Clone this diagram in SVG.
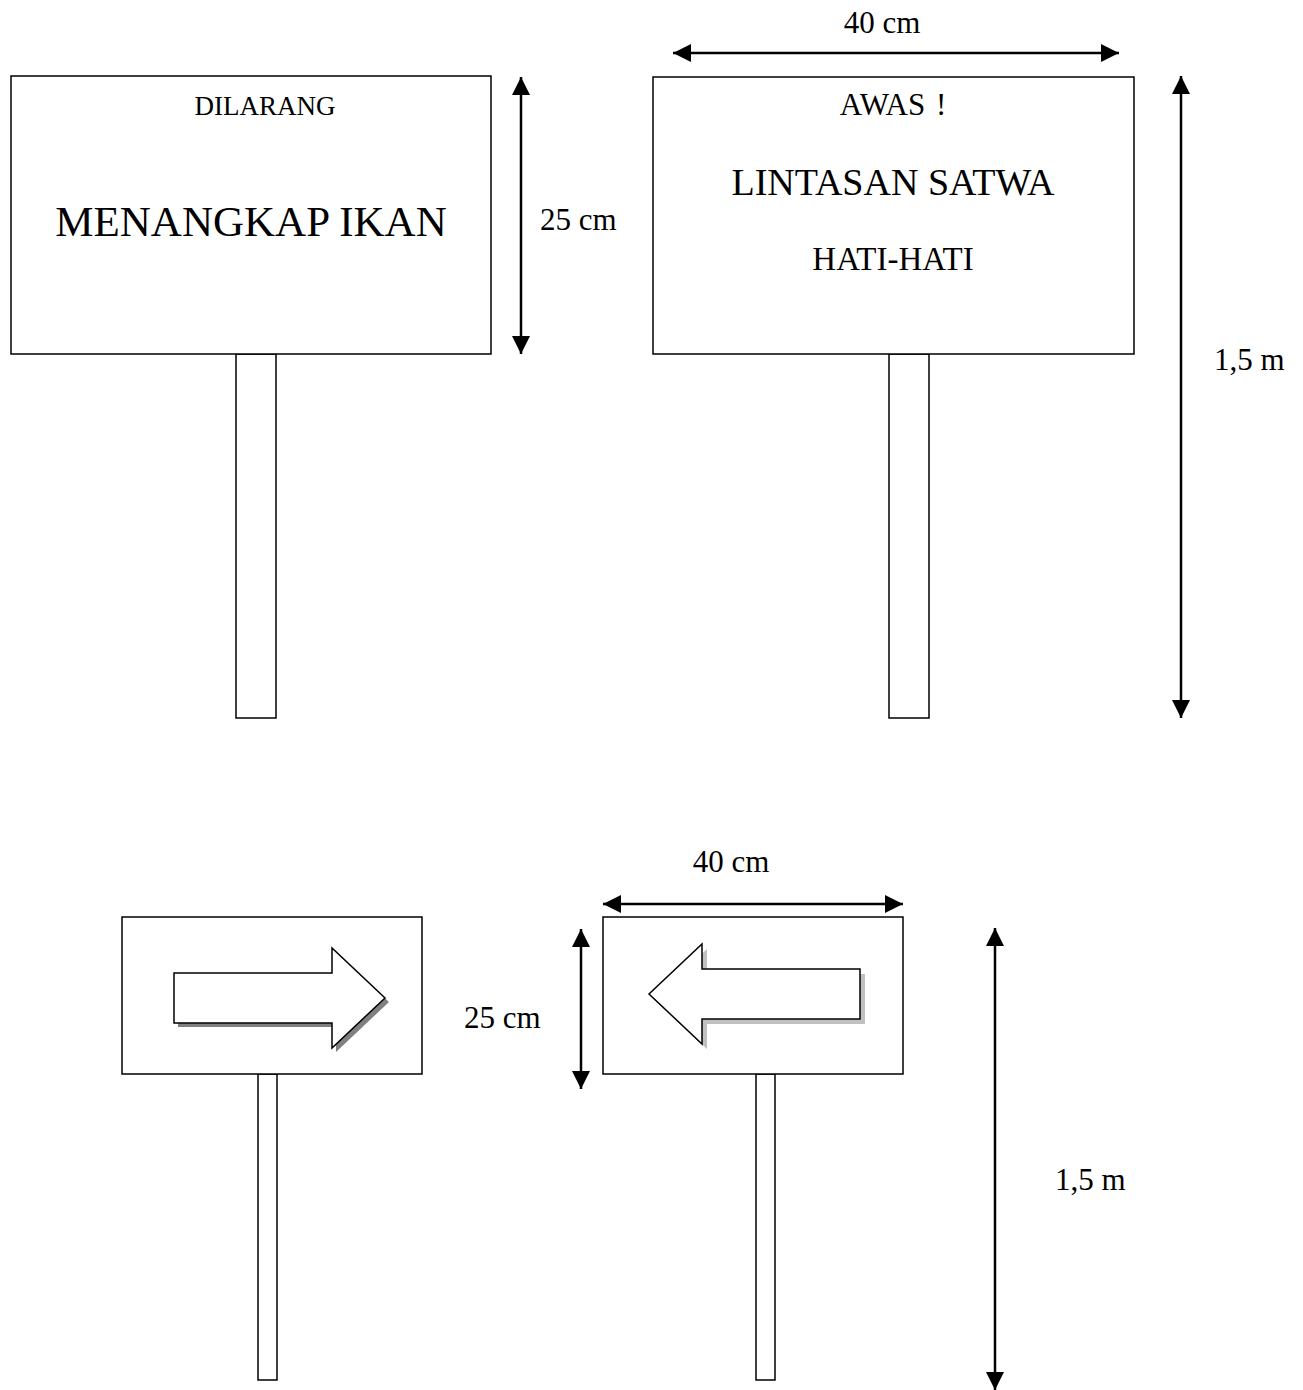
<svg xmlns="http://www.w3.org/2000/svg" width="1303" height="1390" viewBox="0 0 1303 1390">
<style>
.board{fill:#fff;stroke:#000;stroke-width:1.5}
.post{fill:#fff;stroke:#000;stroke-width:1.5}
.dim{stroke:#000;stroke-width:2.5;fill:none;marker-start:url(#ah);marker-end:url(#ah)}
text{font-family:"Liberation Serif","Times New Roman",serif;fill:#000}
.c{text-anchor:middle}
.lbl{font-size:31px}
.arr{fill:#fff;stroke:#000;stroke-width:1.5;stroke-linejoin:miter}
</style>
<defs>
<marker id="ah" markerUnits="userSpaceOnUse" markerWidth="18" markerHeight="18" viewBox="0 0 16 16" refX="16" refY="8" orient="auto-start-reverse">
<path d="M0,0 L16,8 L0,16 Z" fill="#000"/>
</marker>
</defs>
<rect width="1303" height="1390" fill="#fff"/>

<g id="sign-dilarang">
<rect class="post" x="236" y="354" width="40" height="364"/>
<rect class="board" x="11" y="76" width="480" height="278"/>
<text class="c" x="265" y="115" font-size="27">DILARANG</text>
<text class="c" x="251" y="236" font-size="43">MENANGKAP IKAN</text>
</g>

<g id="sign-awas">
<rect class="post" x="889" y="354" width="40" height="364"/>
<rect class="board" x="653" y="77" width="481" height="277"/>
<text class="c" x="893" y="115" font-size="31" word-spacing="3">AWAS !</text>
<text class="c" x="893" y="195" font-size="38">LINTASAN SATWA</text>
<text class="c" x="893" y="270" font-size="33">HATI-HATI</text>
</g>

<g id="sign-right">
<rect class="post" x="258" y="1074" width="19" height="306"/>
<rect class="board" x="122" y="917" width="300" height="157"/>
<path d="M174,973 H332 V948 L385,998 L332,1048 V1023 H174 Z" fill="#808080" transform="translate(4,4)"/>
<path class="arr" d="M174,973 H332 V948 L385,998 L332,1048 V1023 H174 Z"/>
</g>

<g id="sign-left">
<rect class="post" x="756" y="1074" width="19" height="306"/>
<rect class="board" x="603" y="917" width="300" height="157"/>
<path d="M860,969 H702 V944 L649,994 L702,1044 V1019 H860 Z" fill="#c0c0c0" transform="translate(5,5)"/>
<path class="arr" d="M860,969 H702 V944 L649,994 L702,1044 V1019 H860 Z"/>
</g>

<g id="connectors">
<line class="dim" x1="521" y1="77" x2="521" y2="354"/>
<line class="dim" x1="673" y1="53" x2="1119" y2="53"/>
<line class="dim" x1="1181" y1="76" x2="1181" y2="718"/>
<line class="dim" x1="603" y1="904" x2="903" y2="904"/>
<line class="dim" x1="581" y1="929" x2="581" y2="1089"/>
<line class="dim" x1="995" y1="928" x2="995" y2="1390"/>
</g>

<g id="labels">
<text class="lbl" x="540" y="230">25 cm</text>
<text class="lbl c" x="882" y="33">40 cm</text>
<text class="lbl" x="1214" y="370">1,5 m</text>
<text class="lbl c" x="731" y="872">40 cm</text>
<text class="lbl" x="464" y="1028">25 cm</text>
<text class="lbl" x="1055" y="1190">1,5 m</text>
</g>
</svg>
